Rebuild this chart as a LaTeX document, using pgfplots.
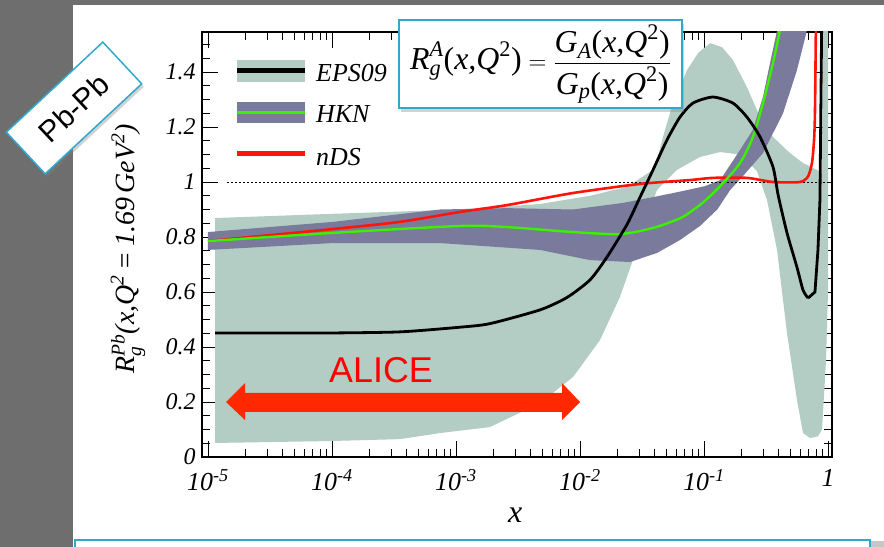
\documentclass[border=0pt]{standalone}
\usepackage{amsmath}
\usepackage{fontspec}
\setmainfont{Liberation Serif}
\newfontfamily\arial{Liberation Sans}
\usepackage{pgfplots}
\pgfplotsset{compat=1.18}
\usetikzlibrary{shadows}
\definecolor{bg}{RGB}{110,110,110}
\definecolor{cyanb}{RGB}{48,168,204}
\definecolor{bandg}{RGB}{179,205,196}
\definecolor{bandp}{RGB}{122,122,156}
\definecolor{hkng}{RGB}{60,240,0}
\definecolor{ndsr}{RGB}{255,20,10}
\definecolor{alice}{RGB}{255,40,0}
\newcommand{\mi}[1]{\textit{#1}}
\newcommand{\xl}[1]{\textit{10}\textsuperscript{\textit{#1}}}
\begin{document}
\begin{tikzpicture}
\useasboundingbox (0,0) rectangle (884bp,547bp);
\fill[bg] (0,0) rectangle (884bp,547bp);
\fill[white] (73bp,-2bp) rectangle (886bp,542bp);
\fill[gray!45] (871bp,-2bp) rectangle (886bp,6bp);
\draw[cyanb, line width=2bp] (75bp,-5bp) -- (75bp,7bp) -- (870bp,7bp) -- (870bp,-5bp);
\begin{axis}[
  at={(202bp,90bp)}, anchor=south west,
  scale only axis, width=630bp, height=425bp,
  xmode=log, xmin=8.946e-6, xmax=1.077,
  ymin=0, ymax=1.5455,
  xtick={1e-5,1e-4,1e-3,1e-2,1e-1,1},
  xticklabels={\xl{-5},\xl{-4},\xl{-3},\xl{-2},\xl{-1},\textit{1}},
  minor xtick={2e-5,3e-5,4e-5,5e-5,6e-5,7e-5,8e-5,9e-5,
               2e-4,3e-4,4e-4,5e-4,6e-4,7e-4,8e-4,9e-4,
               2e-3,3e-3,4e-3,5e-3,6e-3,7e-3,8e-3,9e-3,
               2e-2,3e-2,4e-2,5e-2,6e-2,7e-2,8e-2,9e-2,
               0.2,0.3,0.4,0.5,0.6,0.7,0.8,0.9},
  ytick={0,0.2,0.4,0.6,0.8,1,1.2,1.4},
  yticklabels={\textit{0},\textit{0.2},\textit{0.4},\textit{0.6},\textit{0.8},\textit{1},\textit{1.2},\textit{1.4}},
  minor ytick={0.05,0.1,0.15,0.25,0.3,0.35,0.45,0.5,0.55,0.65,0.7,0.75,0.85,0.9,0.95,1.05,1.1,1.15,1.25,1.3,1.35,1.45,1.5},
  tick align=inside,
  major tick length=16bp, minor tick length=8bp,
  tick style={black, line width=0.9bp},
  axis line style={line width=1.2bp},
  xticklabel style={font=\fontsize{26}{26}\selectfont, yshift=-9bp},
  yticklabel style={font=\fontsize{24}{24}\selectfont, xshift=-3bp},
  xlabel={\textit{x}},
  xlabel style={font=\fontsize{32}{32}\selectfont, at={(axis description cs:0.497,-0.136)}, anchor=center},
  ylabel={$\mi{R}^{\mi{Pb}}_{\mi{g}}\mi{(x,Q}^{\mi{2}}\mi{\,=\,1.69\,GeV}^{\mi{2}}\mi{)}$},
  ylabel style={font=\fontsize{28}{28}\selectfont, at={(axis description cs:-0.1175,0.49)}, anchor=center},
]
% EPS09 band
\addplot[fill=bandg, draw=none] coordinates {
 (1.139e-5,0.869) (9.64e-5,0.884) (1.076e-3,0.90) (4.76e-3,0.92) (1.204e-2,0.95)
 (2.39e-2,0.982) (3.88e-2,1.044) (4.18e-2,1.08) (4.67e-2,1.164) (5.62e-2,1.287)
 (7.29e-2,1.407) (0.09,1.47) (0.112,1.505) (0.14,1.49) (0.171,1.444) (0.222,1.345) (0.283,1.236)
 (0.360,1.164) (0.494,1.105) (0.629,1.069) (0.815,1.044) (0.895,1.03) (0.911,1.7) (1.0,1.7)
 (1.0,0.6) (0.964,0.35) (0.895,0.1) (0.830,0.075) (0.716,0.069) (0.629,0.087)
 (0.562,0.207) (0.467,0.451) (0.388,0.753) (0.322,0.935) (0.267,1.04) (0.195,1.10)
 (0.135,1.109) (9.28e-2,1.091) (6.05e-2,1.044) (4.18e-2,0.971) (3.47e-2,0.873)
 (2.67e-2,0.716) (2.10e-2,0.582) (1.449e-2,0.425) (8.79e-3,0.291) (4.76e-3,0.196)
 (1.88e-3,0.109) (7.43e-4,0.087) (3.53e-4,0.065) (9.64e-5,0.058) (1.139e-5,0.051)
};
% HKN band
\addplot[fill=bandp, draw=none] coordinates {
 (1e-5,0.818) (1.019e-4,0.855) (7.43e-4,0.90) (2.58e-3,0.905) (8.79e-3,0.90)
 (2.22e-2,0.924) (3.88e-2,0.945) (6.4e-2,0.965) (0.102,0.985) (0.135,1.007)
 (0.195,1.116) (0.248,1.19) (0.299,1.31) (0.340,1.43) (0.388,1.55) (0.42,1.65)
 (0.75,1.65) (0.678,1.553) (0.562,1.407) (0.434,1.25) (0.299,1.105) (0.214,1.03)
 (0.162,0.97) (0.128,0.9) (9.28e-2,0.84) (6.40e-2,0.789) (4.18e-2,0.742)
 (2.53e-2,0.709) (1.204e-2,0.716) (4.76e-3,0.753) (7.43e-4,0.778) (1.019e-4,0.778) (1e-5,0.753)
};
% y = 1 reference
\addplot[black, line width=0.8bp, dash pattern=on 2.5bp off 1.5bp] coordinates {(1.42e-5,1) (1.08,1)};
% nDS
\addplot[ndsr, line width=2.6bp, smooth, tension=0.4] coordinates {
 (1e-5,0.785) (1.019e-4,0.829) (3.53e-4,0.855) (1.076e-3,0.891) (2.58e-3,0.916)
 (8.79e-3,0.96) (3.05e-2,0.993) (7.71e-2,1.007) (0.118,1.015) (0.222,1.015)
 (0.360,1.0) (0.594,1.0) (0.690,1.02) (0.743,1.07) (0.771,1.15) (0.785,1.25) (0.80,1.6)
};
% HKN central
\addplot[hkng, line width=2.4bp, smooth, tension=0.5] coordinates {
 (1e-5,0.785) (1.019e-4,0.815) (1.076e-3,0.84) (2.58e-3,0.836) (8.79e-3,0.818)
 (2.10e-2,0.811) (3.88e-2,0.833) (6.40e-2,0.868) (8.15e-2,0.898) (0.102,0.932)
 (0.135,0.985) (0.195,1.069) (0.248,1.164) (0.299,1.287) (0.360,1.433) (0.410,1.553) (0.45,1.65)
};
% EPS09 central
\addplot[black, line width=2.8bp, smooth, tension=0.4] coordinates {
 (1.139e-5,0.451) (3.16e-5,0.451) (9.64e-5,0.451) (3.53e-4,0.455) (1.076e-3,0.472)
 (1.88e-3,0.485) (4.76e-3,0.535) (7.85e-3,0.58) (1.204e-2,0.644) (1.65e-2,0.727)
 (2.39e-2,0.845) (3.05e-2,0.945) (3.88e-2,1.044) (5.03e-2,1.153) (6.40e-2,1.236)
 (8.15e-2,1.287) (0.118,1.309) (0.171,1.287) (0.222,1.236) (0.283,1.164)
 (0.360,1.055) (0.396,0.953) (0.467,0.815) (0.562,0.69) (0.629,0.607) (0.690,0.578)
};
\addplot[black, line width=2.8bp] coordinates {
 (0.690,0.578) (0.785,0.60) (0.830,0.753) (0.861,0.935) (0.895,1.7)
};
\end{axis}
% legend
\fill[bandg] (237bp,465bp) rectangle (305bp,487bp);
\draw[black, line width=5bp] (237bp,476bp) -- (305bp,476bp);
\fill[bandp] (237bp,424bp) rectangle (305bp,445bp);
\draw[hkng, line width=3.5bp] (237bp,434.5bp) -- (305bp,434.5bp);
\draw[ndsr, line width=5bp] (237bp,393bp) -- (305bp,393bp);
\node[anchor=base west, inner sep=0pt, font=\fontsize{26}{26}\selectfont] at (316bp,465bp) {\textit{EPS09}};
\node[anchor=base west, inner sep=0pt, font=\fontsize{26}{26}\selectfont] at (316bp,424bp) {\textit{HKN}};
\node[anchor=base west, inner sep=0pt, font=\fontsize{26}{26}\selectfont] at (316bp,381bp) {\textit{nDS}};
% ALICE arrow
\fill[alice] (226bp,145bp) -- (245bp,164bp) -- (245bp,154bp) -- (562bp,154bp) -- (562bp,164bp)
  -- (580bp,145bp) -- (562bp,127bp) -- (562bp,135bp) -- (245bp,135bp) -- (245bp,127bp) -- cycle;
\node[text=red, font=\arial\fontsize{36}{36}\selectfont] at (381bp,177bp) {ALICE};
% formula box
\node[draw=cyanb, line width=2bp, fill=white, minimum width=283bp, minimum height=88bp,
  drop shadow={shadow xshift=2bp, shadow yshift=-4bp, opacity=0.35},
  font=\fontsize{32}{32}\selectfont] at (540.5bp,483bp)
  {$\mi{R}^{\mi{A}}_{\mi{g}}\textup{(}\mi{x,Q}^{\textup{2}}\textup{)} = \dfrac{\mi{G}_{\mi{A}}\textup{(}\mi{x,Q}^{\textup{2}}\textup{)}}{\mi{G}_{\mi{p}}\textup{(}\mi{x,Q}^{\textup{2}}\textup{)}}$};
% Pb-Pb box
\node[draw=cyanb, line width=1.5bp, fill=white, rotate=43, minimum width=132bp, minimum height=57bp,
  drop shadow={shadow xshift=2bp, shadow yshift=-3bp, opacity=0.35},
  font=\arial\fontsize{30}{30}\selectfont] at (74bp,439bp) {Pb-Pb};
\end{tikzpicture}
\end{document}
